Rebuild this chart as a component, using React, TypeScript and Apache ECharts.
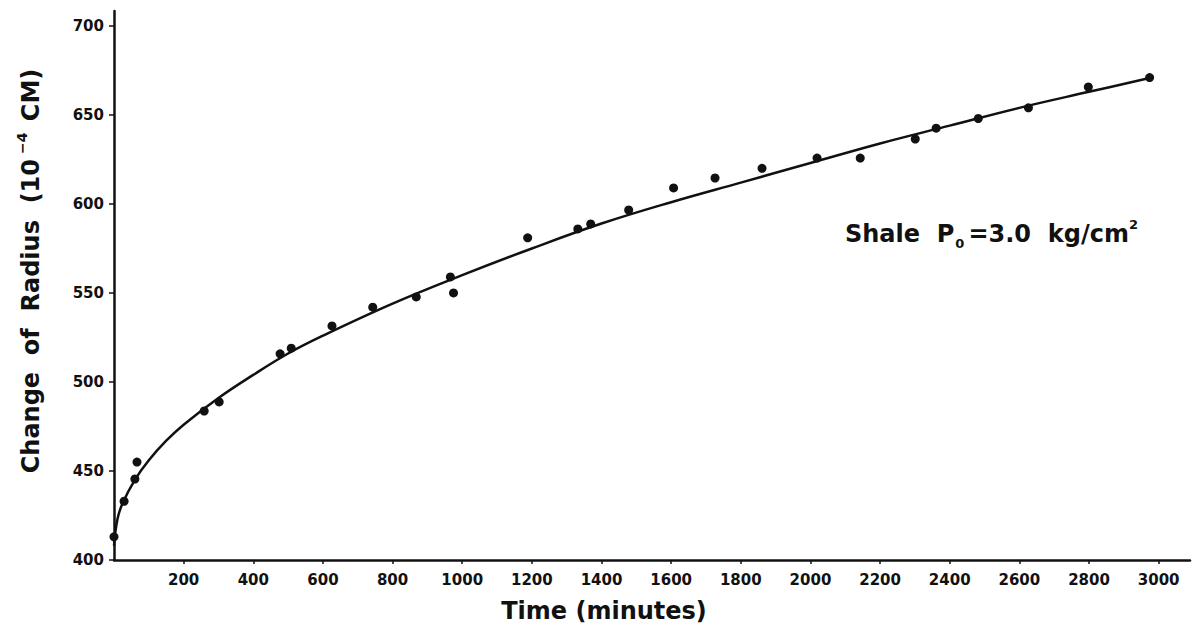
import React, { useEffect, useRef } from "react";
import * as echarts from "echarts";

// Measured points: time (minutes) and change of radius (10^-4 cm)
const pointTimes = [0, 29, 60, 66, 259, 302, 477, 509, 626, 743, 868, 966, 975, 1188, 1332, 1369, 1478, 1607, 1726, 1861, 2019, 2143, 2301, 2361, 2482, 2626, 2798, 2974];
const pointRadius = [413, 433, 445.5, 455, 483.7, 488.8, 515.8, 519, 531.5, 542, 547.8, 559, 550, 581, 586, 588.8, 596.6, 609, 614.6, 620, 625.8, 625.8, 636.5, 642.6, 648, 654, 665.7, 671];

// Fitted curve
const curveTimes = [0, 10, 25, 60, 100, 150, 200, 300, 400, 500, 600, 800, 1000, 1200, 1400, 1600, 1800, 2000, 2200, 2400, 2600, 2800, 2980];
const curveRadius = [408, 423, 432, 445, 456, 467, 476, 491, 504, 516, 526, 544, 560, 575, 589, 601, 612, 623, 634, 644, 654, 663, 671];

const xTicks = [200, 400, 600, 800, 1000, 1200, 1400, 1600, 1800, 2000, 2200, 2400, 2600, 2800, 3000];
const yTicks = [400, 450, 500, 550, 600, 650, 700];

const FONT = "DejaVu Sans";
const INK = "#111";

export default function App() {
  const ref = useRef<HTMLDivElement>(null);
  useEffect(() => {
    if (!ref.current) return;
    const chart = echarts.init(ref.current, undefined, { renderer: "svg" });
    chart.setOption({
      animation: false,
      backgroundColor: "#fff",
      grid: { left: 114, right: 13, top: 11, bottom: 67, containLabel: false },
      xAxis: {
        type: "value",
        min: 0,
        max: 3090,
        interval: 200,
        splitLine: { show: false },
        axisLine: { show: true, onZero: false, lineStyle: { color: INK, width: 2.5 } },
        axisTick: { show: true, inside: false, length: 4, customValues: xTicks, lineStyle: { color: INK, width: 1.5 } },
        axisLabel: {
          customValues: xTicks,
          formatter: (v: number) => String(v),
          margin: 12,
          fontFamily: FONT,
          fontWeight: "bold",
          fontSize: 15,
          color: INK,
        },
      },
      yAxis: {
        type: "value",
        min: 400,
        max: 708.4,
        interval: 50,
        splitLine: { show: false },
        axisLine: { show: true, onZero: false, lineStyle: { color: INK, width: 2.5 } },
        axisTick: { show: true, inside: false, length: 5, customValues: yTicks, lineStyle: { color: INK, width: 1.5 } },
        axisLabel: {
          customValues: yTicks,
          formatter: (v: number) => String(v),
          margin: 10,
          fontFamily: FONT,
          fontWeight: "bold",
          fontSize: 15,
          color: INK,
        },
      },
      series: [
        {
          type: "line",
          data: curveTimes.map((t, i) => [t, curveRadius[i]]),
          smooth: 0.4,
          showSymbol: false,
          lineStyle: { color: INK, width: 2.5 },
          silent: true,
        },
        {
          type: "scatter",
          data: pointTimes.map((t, i) => [t, pointRadius[i]]),
          symbol: "circle",
          symbolSize: 9,
          itemStyle: { color: INK, opacity: 1 },
        },
      ],
      graphic: [
        {
          type: "text",
          x: 604,
          y: 611,
          style: {
            text: "Time (minutes)",
            fontFamily: FONT,
            fontWeight: "bold",
            fontSize: 24,
            fill: INK,
            align: "center",
            verticalAlign: "middle",
          },
        },
        {
          type: "text",
          x: 31,
          y: 271,
          rotation: Math.PI / 2,
          style: {
            text: "Change  of  Radius  (10{sup|−4} CM)",
            fontFamily: FONT,
            fontWeight: "bold",
            fontSize: 24,
            lineHeight: 32,
            fill: INK,
            align: "center",
            verticalAlign: "middle",
            rich: {
              sup: {
                fontFamily: FONT,
                fontWeight: "bold",
                fontSize: 14,
                lineHeight: 14,
                verticalAlign: "top",
                fill: INK,
                padding: [0, 3, 0, 5],
              },
            },
          },
        },
        {
          type: "text",
          x: 845,
          y: 234,
          style: {
            text: "Shale  P{sub|0}=3.0  kg/cm{sup|2}",
            fontFamily: FONT,
            fontWeight: "bold",
            fontSize: 24,
            lineHeight: 32,
            fill: INK,
            align: "left",
            verticalAlign: "middle",
            rich: {
              sub: {
                fontFamily: FONT,
                fontWeight: "bold",
                fontSize: 13,
                lineHeight: 13,
                verticalAlign: "bottom",
                fill: INK,
                padding: [0, 4, 0, 1],
              },
              sup: {
                fontFamily: FONT,
                fontWeight: "bold",
                fontSize: 13,
                lineHeight: 13,
                verticalAlign: "top",
                fill: INK,
              },
            },
          },
        },
      ],
    });
    return () => chart.dispose();
  }, []);
  return (
    <div
      ref={ref}
      style={{ position: "fixed", left: 0, top: 0, width: 1203, height: 627, background: "#fff" }}
    />
  );
}
